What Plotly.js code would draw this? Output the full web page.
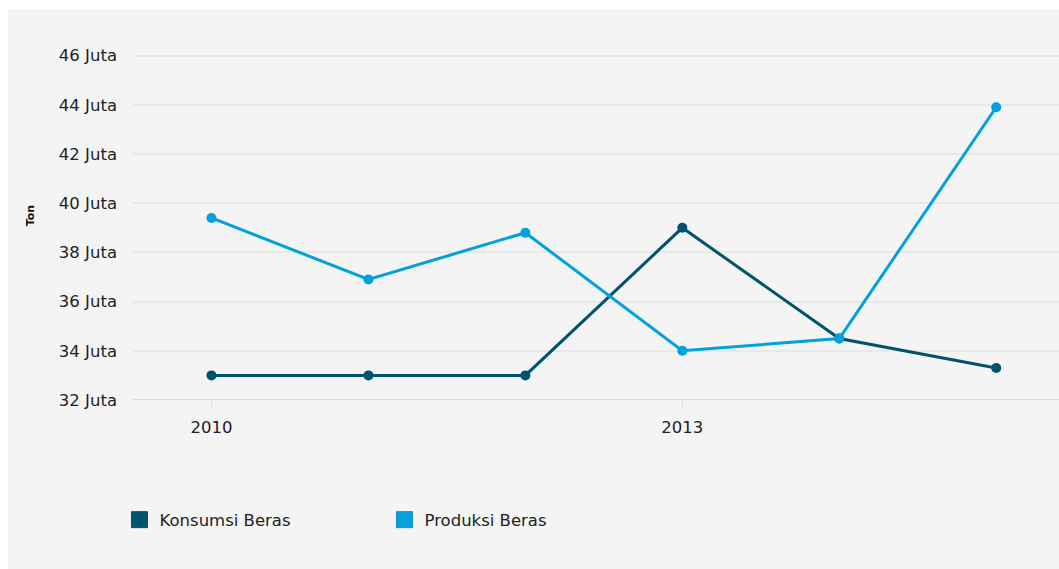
<!DOCTYPE html>
<html>
<head>
<meta charset="utf-8">
<script src="https://cdn.plot.ly/plotly-3.0.1.min.js"></script>
<style>
  html, body { margin: 0; padding: 0; background: #ffffff; }
  #wrap { position: absolute; left: 8px; top: 9px; width: 1051px; height: 560px; background: #f4f4f4; }
  #chart { width: 1051px; height: 560px; }
</style>
</head>
<body>
<div id="wrap"><div id="chart"></div></div>
<script>
const years = [2010, 2011, 2012, 2013, 2014, 2015];
const konsumsi = [33.0, 33.0, 33.0, 39.0, 34.5, 33.3];   // juta ton
const produksi = [39.4, 36.9, 38.8, 34.0, 34.5, 43.9];   // juta ton
const seriesNames = ['Konsumsi Beras', 'Produksi Beras'];
const yTicks = [32, 34, 36, 38, 40, 42, 44, 46];
const yTickText = yTicks.map(v => v + ' Juta');
const xTicks = [2010, 2013];
const yTitle = 'Ton';

const cDark = '#00536f';
const cLight = '#00a1dc';
const font = 'DejaVu Sans, Verdana, sans-serif';

const data = [
  { x: years, y: konsumsi, name: seriesNames[0], type: 'scatter', mode: 'lines+markers',
    line: { color: cDark, width: 3 }, marker: { color: cDark, size: 10 }, showlegend: false },
  { x: years, y: produksi, name: seriesNames[1], type: 'scatter', mode: 'lines+markers',
    line: { color: cLight, width: 3 }, marker: { color: cLight, size: 10 }, showlegend: false },
  { x: [null], y: [null], name: seriesNames[0], type: 'scatter', mode: 'markers',
    marker: { color: cDark, symbol: 'square', size: 16, line: { width: 1, color: '#1f4a5a' } }, hoverinfo: 'skip' },
  { x: [null], y: [null], name: seriesNames[1], type: 'scatter', mode: 'markers',
    marker: { color: cLight, symbol: 'square', size: 16, line: { width: 1, color: '#1a90c0' } }, hoverinfo: 'skip' }
];

const layout = {
  width: 1051, height: 560,
  paper_bgcolor: '#f4f4f4', plot_bgcolor: '#f4f4f4',
  margin: { l: 125, r: 0, t: 22, b: 169 },
  font: { family: font, size: 16.5, color: '#222222' },
  showlegend: true,
  legend: {
    orientation: 'h', x: -0.0146, xanchor: 'left', y: -0.325, yanchor: 'middle',
    bgcolor: 'rgba(0,0,0,0)', entrywidth: 220, entrywidthmode: 'pixels',
    font: { family: font, size: 16.5, color: '#222222' }
  },
  xaxis: {
    range: [2009.5, 2015.4], tickvals: xTicks, ticktext: xTicks.map(String),
    showgrid: false, zeroline: false, showline: false,
    ticks: 'outside', ticklen: 7, tickcolor: '#dddddd', tickwidth: 1, ticklabelstandoff: 5,
    tickfont: { family: font, size: 16.5, color: '#222222' }
  },
  yaxis: {
    range: [32, 47], tickvals: yTicks, ticktext: yTickText,
    showgrid: true, gridcolor: '#e8e8e8', gridwidth: 2,
    zeroline: false, showline: false, ticks: '', ticklabelstandoff: 15,
    tickfont: { family: font, size: 16.5, color: '#222222' },
    title: { text: '<b>' + yTitle + '</b>', font: { family: font, size: 11, color: '#111111' }, standoff: 21 }
  },
  shapes: [
    { type: 'line', xref: 'paper', yref: 'y', x0: 0, x1: 1, y0: 32, y1: 32,
      line: { color: '#dddddd', width: 2 }, layer: 'below' }
  ],
  hovermode: false
};

Plotly.newPlot('chart', data, layout, { displayModeBar: false, staticPlot: true });
</script>
</body>
</html>
